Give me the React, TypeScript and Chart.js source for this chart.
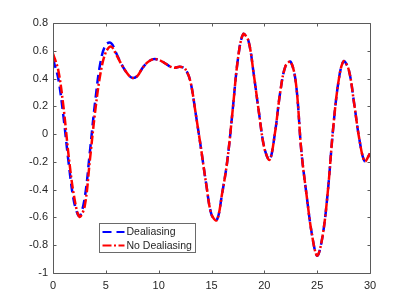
import React, { useEffect, useRef } from "react";
import { Chart, registerables } from "chart.js";

Chart.register(...registerables);

const xValues = [
  0, 0.5, 1, 1.5, 2, 2.5, 3, 3.5, 4, 4.5, 5, 5.5, 6, 6.5, 7, 7.5, 8, 8.5, 9, 9.5,
  10, 10.5, 11, 11.5, 12, 12.5, 13, 13.5, 14, 14.5, 15, 15.5, 16, 16.5, 17, 17.5, 18, 18.5, 19, 19.5,
  20, 20.5, 21, 21.5, 22, 22.5, 23, 23.5, 24, 24.5, 25, 25.5, 26, 26.5, 27, 27.5, 28, 28.5, 29, 29.5, 30,
];

const noDealiasing = [
  0.58, 0.46, 0.19, -0.17, -0.45, -0.595, -0.52, -0.18, 0.17, 0.44, 0.59, 0.63, 0.57, 0.5, 0.44, 0.405, 0.42, 0.48, 0.52, 0.54,
  0.535, 0.515, 0.49, 0.478, 0.485, 0.47, 0.38, 0.15, -0.1, -0.36, -0.58, -0.62, -0.43, -0.19, 0.17, 0.54, 0.72, 0.67, 0.43, 0.15,
  -0.1, -0.185, 0.005, 0.3, 0.49, 0.52, 0.36, -0.12, -0.44, -0.72, -0.876, -0.74, -0.42, 0.03, 0.37, 0.525, 0.46, 0.22, -0.04, -0.195, -0.14,
];

const dealiasing = [
  0.54, 0.4, 0.12, -0.22, -0.49, -0.59, -0.46, -0.12, 0.24, 0.52, 0.645, 0.655, 0.58, 0.5, 0.44, 0.405, 0.42, 0.48, 0.52, 0.54,
  0.535, 0.515, 0.49, 0.478, 0.485, 0.47, 0.38, 0.15, -0.1, -0.36, -0.58, -0.62, -0.43, -0.19, 0.17, 0.54, 0.72, 0.67, 0.43, 0.15,
  -0.1, -0.185, 0.005, 0.3, 0.49, 0.52, 0.36, -0.12, -0.44, -0.72, -0.876, -0.74, -0.42, 0.03, 0.37, 0.525, 0.46, 0.22, -0.04, -0.195, -0.14,
];

const seriesNames = ["Dealiasing", "No Dealiasing"];
const xTicks = [0, 5, 10, 15, 20, 25, 30];
const yTicks = [-1, -0.8, -0.6, -0.4, -0.2, 0, 0.2, 0.4, 0.6, 0.8];

const FONT = "'Liberation Sans', Arial, Helvetica, sans-serif";
const TEXT = "#262626";
const AXIS = "#5a5a5a";
const BLUE = "#0000ff";
const RED = "#ff0000";
const BLUE_DASH = [9, 5];
const RED_DASH = [9, 2.5, 2, 2.5];

const fmt = (v: number) => {
  const r = Math.round(v * 10) / 10;
  if (r === 0) return "0";
  return String(r);
};

const frameAndLegend = {
  id: "frameAndLegend",
  afterDatasetsDraw(chart: any) {
    const ctx = chart.ctx;
    const { left, right, top, bottom } = chart.chartArea;
    const xs = chart.scales.x;
    const ys = chart.scales.y;
    ctx.save();
    ctx.strokeStyle = AXIS;
    ctx.lineWidth = 1;
    ctx.setLineDash([]);
    const L = Math.round(left) + 0.5, R = Math.round(right) + 0.5;
    const T = Math.round(top) + 0.5, B = Math.round(bottom) + 0.5;
    ctx.beginPath();
    ctx.rect(L, T, R - L, B - T);
    ctx.stroke();
    const tl = 3;
    ctx.beginPath();
    for (const v of xTicks) {
      const px = Math.round(xs.getPixelForValue(v)) + 0.5;
      ctx.moveTo(px, B); ctx.lineTo(px, B - tl);
      ctx.moveTo(px, T); ctx.lineTo(px, T + tl);
    }
    for (const v of yTicks) {
      const py = Math.round(ys.getPixelForValue(v)) + 0.5;
      ctx.moveTo(L, py); ctx.lineTo(L + tl, py);
      ctx.moveTo(R, py); ctx.lineTo(R - tl, py);
    }
    ctx.stroke();

    // legend
    const bx = L + 46, by = B - 50, bw = 96, bh = 29;
    ctx.fillStyle = "#ffffff";
    ctx.fillRect(bx, by, bw, bh);
    ctx.strokeStyle = "#6a6a6a";
    ctx.strokeRect(bx, by, bw, bh);
    const rows = [
      { name: seriesNames[0], color: BLUE, dash: BLUE_DASH },
      { name: seriesNames[1], color: RED, dash: RED_DASH },
    ];
    ctx.font = `10.5px ${FONT}`;
    ctx.textBaseline = "middle";
    rows.forEach((r, i) => {
      const cy = by + 8.5 + i * 13.5;
      ctx.strokeStyle = r.color;
      ctx.lineWidth = 2.2;
      ctx.setLineDash(r.dash);
      ctx.beginPath();
      ctx.moveTo(bx + 3, cy);
      ctx.lineTo(bx + 25, cy);
      ctx.stroke();
      ctx.setLineDash([]);
      ctx.fillStyle = TEXT;
      ctx.fillText(r.name, bx + 27, cy + 0.5);
    });
    ctx.restore();
  },
};

export default function App() {
  const ref = useRef<HTMLCanvasElement>(null);
  useEffect(() => {
    if (!ref.current) return;
    const chart = new Chart(ref.current, {
      type: "line",
      data: {
        datasets: [
          {
            label: seriesNames[0],
            data: xValues.map((x, i) => ({ x, y: dealiasing[i] })),
            borderColor: BLUE,
            borderWidth: 2.5,
            borderDash: BLUE_DASH,
            pointRadius: 0,
            tension: 0.35,
            fill: false,
            order: 2,
          },
          {
            label: seriesNames[1],
            data: xValues.map((x, i) => ({ x, y: noDealiasing[i] })),
            borderColor: RED,
            borderWidth: 2.5,
            borderDash: RED_DASH,
            pointRadius: 0,
            tension: 0.35,
            fill: false,
            order: 1,
          },
        ],
      },
      options: {
        animation: false,
        responsive: false,
        maintainAspectRatio: false,
        layout: { padding: { top: 23, right: 39, left: 0, bottom: 0 } },
        plugins: {
          legend: { display: false },
          tooltip: { enabled: false },
        },
        scales: {
          x: {
            type: "linear",
            min: 0,
            max: 30,
            afterFit: (s: any) => { s.height = 34; },
            afterBuildTicks: (s: any) => { s.ticks = xTicks.map((v) => ({ value: v })); },
            ticks: {
              font: { family: FONT, size: 11 },
              color: TEXT,
              padding: 6,
              maxRotation: 0,
              callback: (v: any) => String(v),
            },
            grid: { display: true, drawOnChartArea: false, drawTicks: false, tickLength: 0 },
            border: { display: false },
          },
          y: {
            type: "linear",
            min: -1,
            max: 0.8,
            afterFit: (s: any) => { s.width = 53; },
            afterBuildTicks: (s: any) => { s.ticks = yTicks.map((v) => ({ value: v })); },
            ticks: {
              font: { family: FONT, size: 11 },
              color: TEXT,
              padding: 5,
              callback: (v: any) => fmt(Number(v)),
            },
            grid: { display: true, drawOnChartArea: false, drawTicks: false, tickLength: 0 },
            border: { display: false },
          },
        },
      },
      plugins: [frameAndLegend],
    } as any);
    return () => chart.destroy();
  }, []);
  return (
    <div style={{ position: "fixed", left: 0, top: 0, width: 409, height: 307, background: "#fff" }}>
      <canvas ref={ref} width={409} height={307} style={{ width: 409, height: 307 }} />
    </div>
  );
}
